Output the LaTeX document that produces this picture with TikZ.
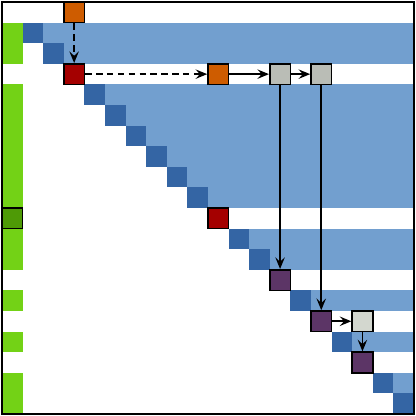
\documentclass[tikz,border=0pt]{standalone}
\usetikzlibrary{arrows.meta}
\definecolor{lblue}{HTML}{729FCF}
\definecolor{dblue}{HTML}{3465A4}
\definecolor{lgreen}{HTML}{73D216}
\definecolor{dgreen}{HTML}{4E9A06}
\definecolor{dred}{HTML}{A40000}
\definecolor{dorange}{HTML}{CE5C00}
\definecolor{mgray}{HTML}{BABDB6}
\definecolor{lgray}{HTML}{D3D7CF}
\definecolor{dpurple}{HTML}{5C3566}
\begin{document}
\begin{tikzpicture}[>={Stealth[length=8pt,width=6.5pt,inset=3pt]}, x=0.5cm, y=0.5cm,
  blk/.style={draw=black, line width=1.1pt, minimum size=0.5cm, inner sep=0pt},
  link/.style={->, line width=1.1pt}]
\useasboundingbox (-0.1,0.1) rectangle (20.1,-20.1);

% rows of the matrix
\foreach \r in {1,2,4,5,6,7,8,9,11,12,14,16,18}
  \fill[lblue] (\r+1,-\r) rectangle (20,-\r-1);
\foreach \r in {1,2,4,5,6,7,8,9,11,12,14,16,18,19}{
  \fill[dblue] (\r,-\r) rectangle (\r+1,-\r-1);
  \fill[lgreen] (0,-\r) rectangle (1,-\r-1);
}

\node[blk, fill=dorange] (top) at (3.5,-0.5) {};
\node[blk, fill=dred] (piv) at (3.5,-3.5) {};
\node[blk, fill=dorange] (upd) at (10.5,-3.5) {};
\node[blk, fill=mgray] (ga) at (13.5,-3.5) {};
\node[blk, fill=mgray] (gb) at (15.5,-3.5) {};
\node[blk, fill=dred] (mid) at (10.5,-10.5) {};
\node[blk, fill=dgreen] (vec) at (0.5,-10.5) {};
\node[blk, fill=dpurple] (pa) at (13.5,-13.5) {};
\node[blk, fill=dpurple] (pb) at (15.5,-15.5) {};
\node[blk, fill=lgray] (gc) at (17.5,-15.5) {};
\node[blk, fill=dpurple] (pc) at (17.5,-17.5) {};

\draw[link, dash pattern=on 4.5pt off 3pt] (top) -- (piv);
\draw[link, dash pattern=on 4.5pt off 3pt] (piv) -- (upd);
\draw[link] (upd) -- (ga);
\draw[link] (ga) -- (gb);
\draw[link] (ga) -- (pa);
\draw[link] (gb) -- (pb);
\draw[link] (pb) -- (gc);
\draw[link] (gc) -- (pc);

\draw[line width=1.2pt] (0,0) rectangle (20,-20);
\end{tikzpicture}
\end{document}
